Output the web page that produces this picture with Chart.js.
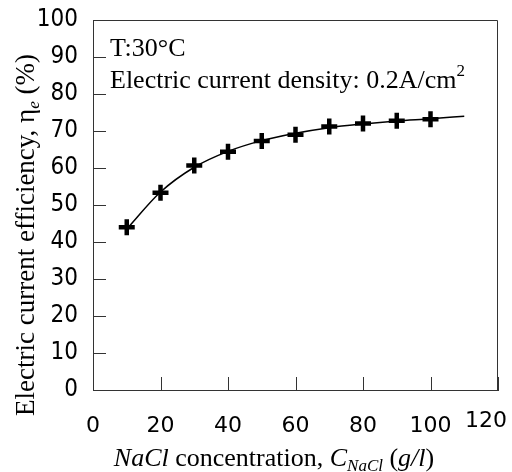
<!DOCTYPE html>
<html>
<head>
<meta charset="utf-8">
<script src="https://cdn.jsdelivr.net/npm/chart.js@4"></script>
<style>
  html, body { margin: 0; padding: 0; background: #fff; }
  #wrap { width: 512px; height: 472px; }
</style>
</head>
<body>
<div id="wrap"><canvas id="chart" width="512" height="472"></canvas></div>
<script>
// measured points
const concentration = [10, 20, 30, 40, 50, 60, 70, 80, 90, 100];
const efficiency = [44, 53.3, 60.7, 64.4, 67.3, 69, 71.2, 72, 72.8, 73.2];

// fitted curve
const fitX = [10, 20, 30, 40, 50, 60, 70, 80, 90, 100, 110];
const fitY = [43.5, 53.5, 60.2, 64.5, 67.4, 69.4, 70.9, 71.9, 72.7, 73.3, 74];

const xTicks = [0, 20, 40, 60, 80, 100, 120];
const yTicks = [0, 10, 20, 30, 40, 50, 60, 70, 80, 90, 100];

const serif = '"Liberation Serif", "Times New Roman", serif';
const tickFontY = '"DejaVu Sans Condensed", sans-serif';
const tickFontX = '"DejaVu Sans", Verdana, sans-serif';

// draws a run of text pieces (normal / italic / sub / sup) from x
function drawParts(ctx, parts, x, y) {
  parts.forEach((p) => {
    ctx.font = p.f;
    ctx.fillText(p.t, x, y + (p.dy || 0));
    x += ctx.measureText(p.t).width;
  });
}
function partsWidth(ctx, parts) {
  return parts.reduce((w, p) => {
    ctx.font = p.f;
    return w + ctx.measureText(p.t).width;
  }, 0);
}

// inward tick marks, the frame, notes and axis titles
const decorations = {
  id: "decorations",
  afterDraw(chart) {
    const { ctx, chartArea: a, scales } = chart;
    ctx.save();
    ctx.strokeStyle = "#333";
    ctx.lineWidth = 1;
    ctx.beginPath();
    ctx.moveTo(a.left, a.top + 0.5);
    ctx.lineTo(a.right - 0.5, a.top + 0.5);
    ctx.lineTo(a.right - 0.5, a.bottom);
    ctx.stroke();

    ctx.beginPath();
    yTicks.forEach((v) => {
      const y = Math.round(scales.y.getPixelForValue(v)) + 0.5;
      ctx.moveTo(a.left, y);
      ctx.lineTo(a.left + 13, y);
    });
    xTicks.forEach((v) => {
      const x = Math.round(scales.x.getPixelForValue(v)) + 0.5;
      ctx.moveTo(x, a.bottom);
      ctx.lineTo(x, a.bottom - 13);
    });
    ctx.stroke();

    ctx.fillStyle = "#000";
    // the last x label sits inside the canvas, pulled left a little
    const last = xTicks[xTicks.length - 1];
    ctx.font = "22px " + tickFontX;
    ctx.textAlign = "right";
    ctx.textBaseline = "middle";
    ctx.fillText(String(last), scales.x.getPixelForValue(last) + 9, 421);

    ctx.textBaseline = "alphabetic";
    ctx.textAlign = "left";
    const big = "26px " + serif;
    const small = "17px " + serif;
    ctx.font = big;
    ctx.fillText("T:30°C", 110, 56);
    drawParts(ctx, [
      { t: "Electric current density: 0.2A/cm", f: big },
      { t: "2", f: "17px " + serif, dy: -12 }
    ], 110, 88);

    const xTitle = [
      { t: "NaCl", f: "italic " + big },
      { t: " concentration, ", f: big },
      { t: "C", f: "italic " + big },
      { t: "NaCl", f: "italic " + small, dy: 5 },
      { t: " (", f: big },
      { t: "g/l", f: "italic " + big },
      { t: ")", f: big }
    ];
    drawParts(ctx, xTitle, 274 - partsWidth(ctx, xTitle) / 2, 466);

    const yBig = "27px " + serif;
    const yTitle = [
      { t: "Electric current efficiency, η", f: yBig },
      { t: "e", f: "italic " + small, dy: 5 },
      { t: " (%)", f: yBig }
    ];
    ctx.translate(34, 235);
    ctx.rotate(-Math.PI / 2);
    drawParts(ctx, yTitle, -partsWidth(ctx, yTitle) / 2, 0);
    ctx.restore();
  }
};

new Chart(document.getElementById("chart"), {
  type: "scatter",
  data: {
    datasets: [
      {
        label: "fit",
        data: fitX.map((x, i) => ({ x: x, y: fitY[i] })),
        showLine: true,
        borderColor: "#000",
        borderWidth: 1.5,
        pointRadius: 0,
        cubicInterpolationMode: "monotone",
        order: 2
      },
      {
        label: "measured",
        data: concentration.map((x, i) => ({ x: x, y: efficiency[i] })),
        pointStyle: "cross",
        pointRadius: 8,
        pointHoverRadius: 8,
        borderWidth: 4.5,
        pointBorderWidth: 4.5,
        borderColor: "#000",
        backgroundColor: "#000",
        order: 1
      }
    ]
  },
  options: {
    responsive: false,
    animation: false,
    layout: { padding: { top: 20, right: 14, left: 0, bottom: 0 } },
    plugins: {
      legend: { display: false },
      tooltip: { enabled: false }
    },
    scales: {
      x: {
        type: "linear",
        min: 0,
        max: 120,
        afterBuildTicks: (s) => { s.ticks = xTicks.map((v) => ({ value: v })); },
        afterFit: (s) => { s.height = 82; s.paddingLeft = 0; s.paddingRight = 0; },
        grid: { display: false, drawTicks: false },
        border: { display: true, color: "#333", width: 1 },
        ticks: {
          color: "#000",
          padding: 23,
          maxRotation: 0,
          font: { family: tickFontX, size: 22 },
          callback: (v) => (v === xTicks[xTicks.length - 1] ? "" : String(v))
        }
      },
      y: {
        min: 0,
        max: 100,
        afterBuildTicks: (s) => { s.ticks = yTicks.map((v) => ({ value: v })); },
        afterFit: (s) => { s.width = 93; s.paddingTop = 0; s.paddingBottom = 0; },
        grid: { display: false, drawTicks: false },
        border: { display: true, color: "#333", width: 1 },
        ticks: {
          color: "#000",
          padding: 15,
          font: { family: tickFontY, size: 24 }
        }
      }
    }
  },
  plugins: [decorations]
});
</script>
</body>
</html>
